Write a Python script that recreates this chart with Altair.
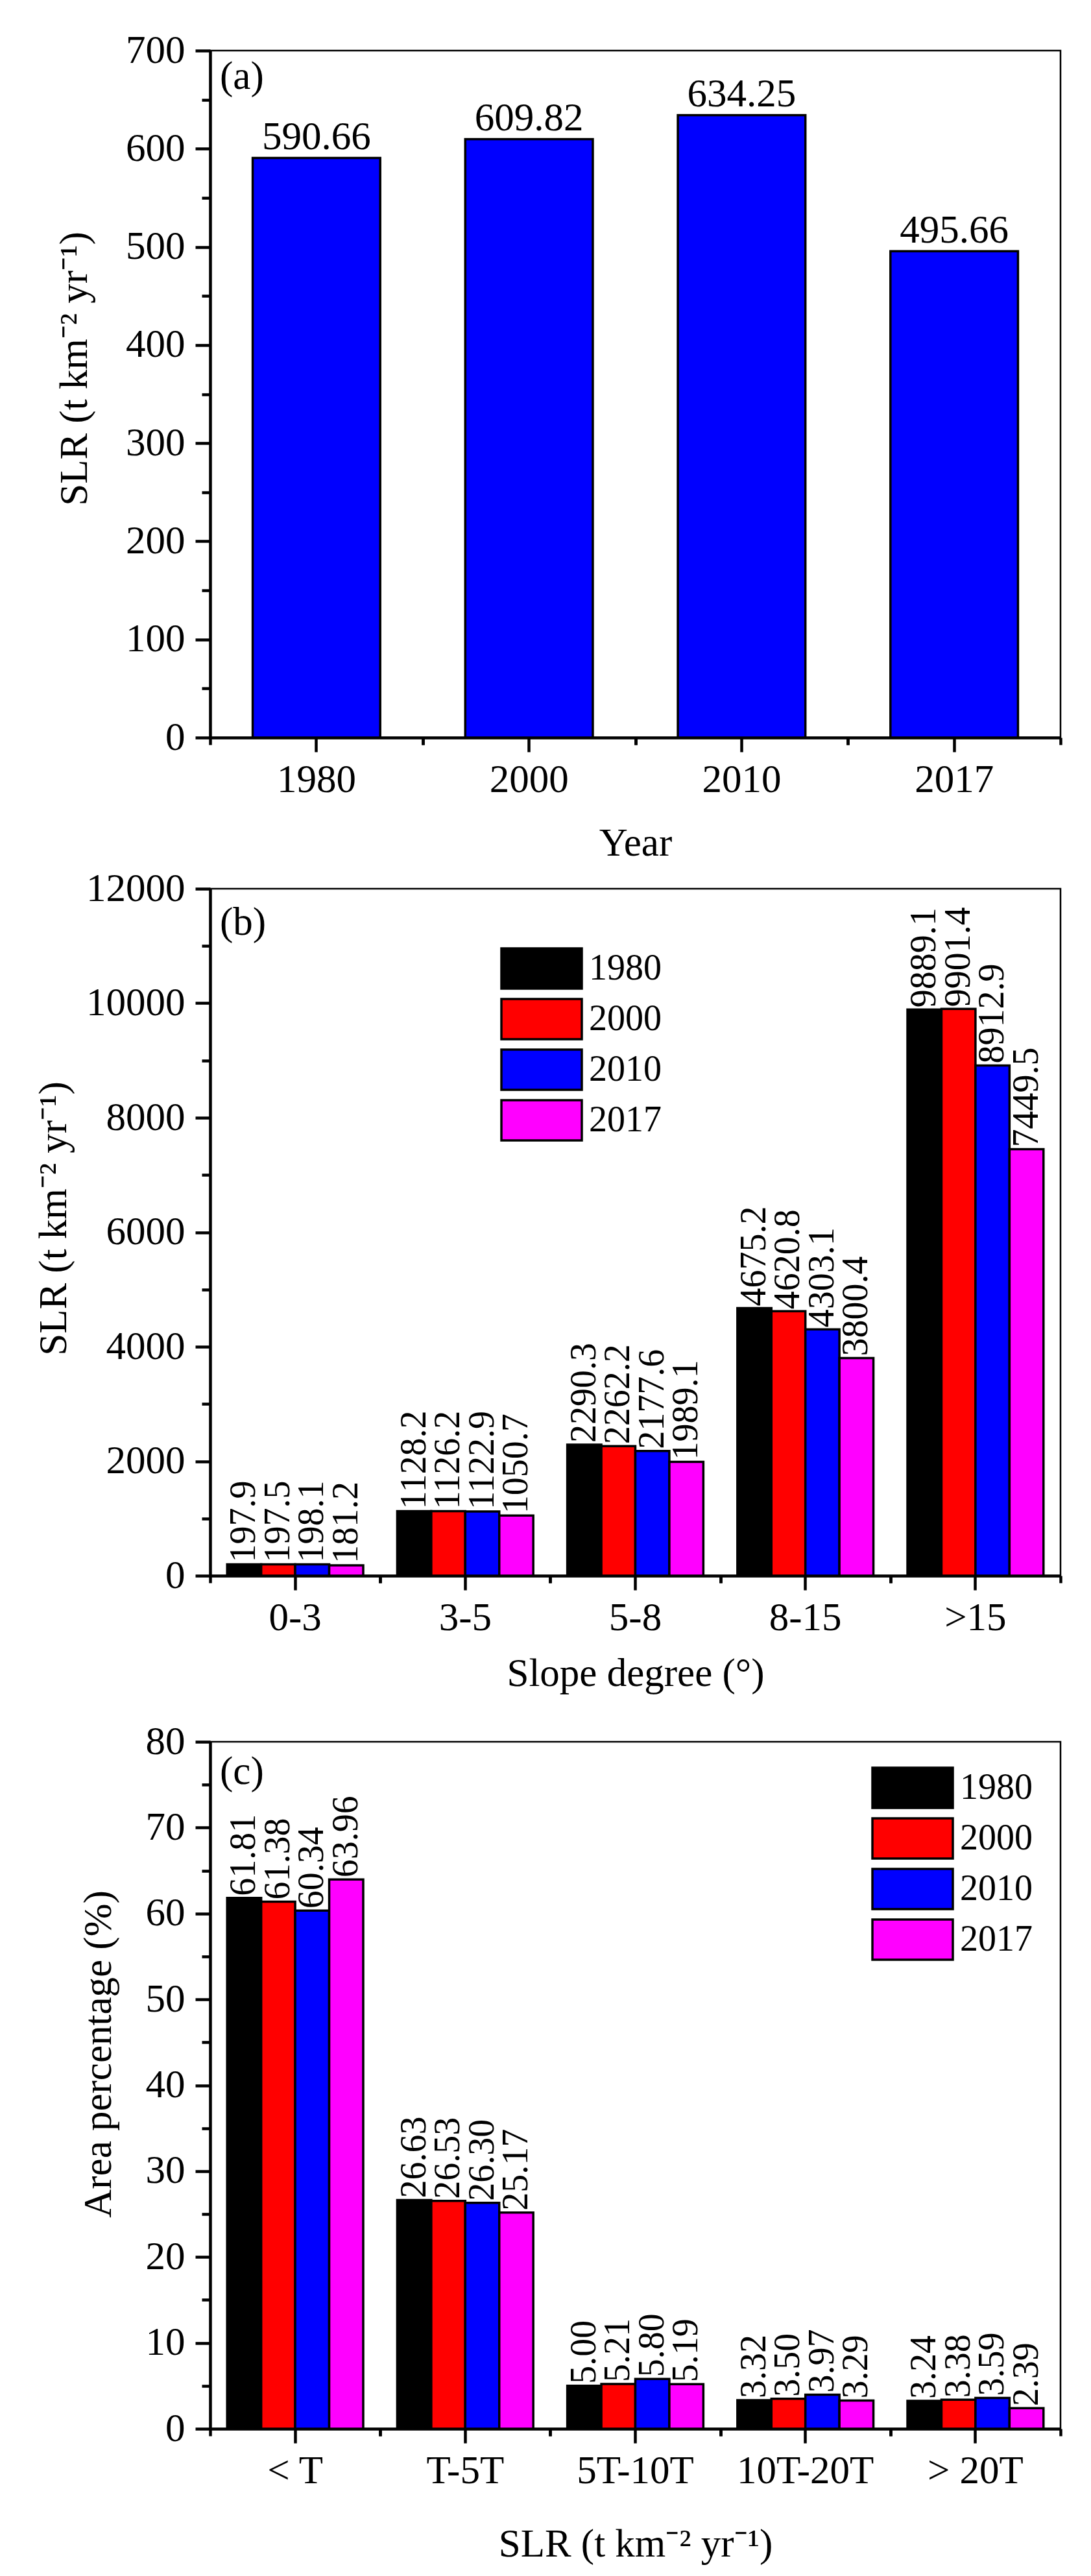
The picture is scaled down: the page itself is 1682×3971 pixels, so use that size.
import pandas as pd
import altair as alt

FONT = "Liberation Serif"

# -----------------------------
# data
# -----------------------------
years = ["1980", "2000", "2010", "2017"]
year_colors = ["#000000", "#ff0000", "#0000ff", "#ff00ff"]

# (a) SLR per year
slr_year = [590.66, 609.82, 634.25, 495.66]

# (b) SLR per slope class
slope_classes = ["0-3", "3-5", "5-8", "8-15", ">15"]
slope_1980 = [197.9, 1128.2, 2290.3, 4675.2, 9889.1]
slope_2000 = [197.5, 1126.2, 2262.2, 4620.8, 9901.4]
slope_2010 = [198.1, 1122.9, 2177.6, 4303.1, 8912.9]
slope_2017 = [181.2, 1050.7, 1989.1, 3800.4, 7449.5]

# (c) area percentage per SLR class
slr_classes = ["< T", "T-5T", "5T-10T", "10T-20T", "> 20T"]
area_1980 = [61.81, 26.63, 5.00, 3.32, 3.24]
area_2000 = [61.38, 26.53, 5.21, 3.50, 3.38]
area_2010 = [60.34, 26.30, 5.80, 3.97, 3.59]
area_2017 = [63.96, 25.17, 5.19, 3.29, 2.39]

SLR_UNIT = "SLR (t km⁻² yr⁻¹)"
W, H = 1311, 1059


def long_table(cats, series):
    rows = []
    for yr, vals in zip(years, series):
        for c, v in zip(cats, vals):
            rows.append({"cat": c, "year": yr, "value": v})
    return pd.DataFrame(rows)


def y_axes(ymax, step):
    major = list(range(0, ymax + 1, step))
    minor = [v + step / 2 for v in major[:-1]]
    return major, minor


def panel_text(label, ypos):
    return alt.Chart(pd.DataFrame({"panel": [label]})).mark_text(
        align="left", baseline="alphabetic", font=FONT, fontSize=61, color="black"
    ).encode(x=alt.value(15), y=alt.value(ypos), text="panel:N")


def minor_layers(df, cats, xsc, ysc, minor_y):
    # invisible (unstacked) layers that only carry the short ticks
    half_step = W / len(cats) / 2
    right = alt.Chart(df).mark_bar(opacity=0).encode(
        x=alt.X("cat:N", sort=cats, scale=xsc,
                axis=alt.Axis(orient="bottom", tickOffset=half_step, tickSize=11,
                              labels=False, domain=False, title=None)),
        y=alt.Y("value:Q", scale=ysc, stack=None,
                axis=alt.Axis(orient="left", values=minor_y, tickSize=13, labels=False,
                              domain=False, title=None)),
    )
    left = alt.Chart(df).mark_bar(opacity=0).encode(
        x=alt.X("cat:N", sort=cats, scale=xsc,
                axis=alt.Axis(orient="bottom", tickOffset=-half_step, tickSize=11,
                              labels=False, domain=False, title=None)),
        y=alt.Y("value:Q", scale=ysc, stack=None, axis=None),
    )
    return [right, left]


# -----------------------------
# (a) simple bars
# -----------------------------
df_a = pd.DataFrame({"cat": years, "value": slr_year})
major_a, minor_a = y_axes(700, 100)
ysc_a = alt.Scale(domain=[0, 700], nice=False)
xsc_a = alt.Scale(paddingInner=0.4, paddingOuter=0.2)

bars_a = alt.Chart(df_a).mark_bar(fill="#0000ff", stroke="black", strokeWidth=3.5).encode(
    x=alt.X("cat:N", sort=years, scale=xsc_a,
            axis=alt.Axis(orient="bottom", labelAngle=0, tickSize=22, labelPadding=13,
                          labelLimit=500, title="Year", titlePadding=38)),
    y=alt.Y("value:Q", scale=ysc_a,
            axis=alt.Axis(orient="left", values=major_a, format="d", tickSize=23,
                          labelPadding=16, title=SLR_UNIT, titlePadding=47, titleY=490)),
)
text_a = alt.Chart(df_a).mark_text(
    align="center", baseline="alphabetic", dy=-13, font=FONT, fontSize=61, color="black"
).encode(
    x=alt.X("cat:N", sort=years, scale=xsc_a, axis=None),
    y=alt.Y("value:Q", scale=ysc_a, axis=None),
    text=alt.Text("value:Q", format=".2f"),
)
chart_a = alt.layer(
    bars_a, text_a, *minor_layers(df_a, years, xsc_a, ysc_a, minor_a), panel_text("(a)", 59)
).resolve_axis(x="independent", y="independent").properties(width=W, height=H)


# -----------------------------
# grouped bars for (b) and (c)
# -----------------------------
def grouped(df, cats, ymax, step, fmt, x_title, x_pad, y_title, y_pad, y_title_y,
            leg_x, leg_y, panel, panel_y, x_title_lh=None):
    major, minor = y_axes(ymax, step)
    ysc = alt.Scale(domain=[0, ymax], nice=False)
    xsc = alt.Scale(paddingInner=0.2, paddingOuter=0.1)
    offsc = alt.Scale(paddingInner=0, paddingOuter=0)

    x_axis_args = dict(orient="bottom", labelAngle=0, tickSize=22, labelPadding=13,
                       labelLimit=500, title=x_title, titlePadding=x_pad)
    if x_title_lh is not None:
        x_axis_args["titleLineHeight"] = x_title_lh

    bars = alt.Chart(df).mark_bar(stroke="black", strokeWidth=3.5).encode(
        x=alt.X("cat:N", sort=cats, scale=xsc, axis=alt.Axis(**x_axis_args)),
        xOffset=alt.XOffset("year:N", sort=years, scale=offsc),
        y=alt.Y("value:Q", scale=ysc, stack=None,
                axis=alt.Axis(orient="left", values=major, format="d", tickSize=23,
                              labelPadding=16, title=y_title, titlePadding=y_pad,
                              titleY=y_title_y)),
        color=alt.Color("year:N", sort=years,
                        scale=alt.Scale(domain=years, range=year_colors),
                        legend=alt.Legend(title=None, orient="none", legendX=leg_x, legendY=leg_y,
                                          symbolType="M-2,-1H2V1H-2Z", symbolSize=3844,
                                          symbolStrokeColor="black", symbolStrokeWidth=3.5,
                                          symbolOpacity=1, labelFont=FONT, labelFontSize=56,
                                          labelColor="black", labelOffset=40, rowPadding=2,
                                          padding=0)),
    )
    labels = alt.Chart(df).mark_text(
        angle=270, align="left", baseline="middle", dx=3, font=FONT, fontSize=56, color="black"
    ).encode(
        x=alt.X("cat:N", sort=cats, scale=xsc, axis=None),
        xOffset=alt.XOffset("year:N", sort=years, scale=offsc),
        y=alt.Y("value:Q", scale=ysc, axis=None),
        text=alt.Text("value:Q", format=fmt),
    )
    return alt.layer(
        bars, labels, *minor_layers(df, cats, xsc, ysc, minor), panel_text(panel, panel_y)
    ).resolve_axis(x="independent", y="independent").properties(width=W, height=H)


df_b = long_table(slope_classes, [slope_1980, slope_2000, slope_2010, slope_2017])
chart_b = grouped(df_b, slope_classes, 12000, 2000, ".1f",
                  ["Slope degree (°)", " "], 26, SLR_UNIT, 18, 508,
                  478, 90, "(b)", 71, x_title_lh=35)

df_c = long_table(slr_classes, [area_1980, area_2000, area_2010, area_2017])
chart_c = grouped(df_c, slr_classes, 80, 10, ".2f",
                  SLR_UNIT, 53, "Area percentage (%)", 41, 481,
                  1050, 38, "(c)", 65)

# -----------------------------
# combine + save
# -----------------------------
chart = alt.vconcat(chart_a, chart_b, chart_c, spacing=5).resolve_scale(
    color="independent"
).resolve_legend(color="independent").properties(
    padding={"left": 43, "top": 37, "right": 30, "bottom": 10}
).configure_axis(
    labelFont=FONT, titleFont=FONT, labelFontSize=61, titleFontSize=61,
    labelColor="black", titleColor="black", titleFontWeight="normal",
    domainColor="black", tickColor="black", domainWidth=4.5, tickWidth=4.5, grid=False,
).configure_view(stroke="black", strokeWidth=2.5)

chart.save("out.html", embed_options={"renderer": "svg", "actions": False})
print("saved")
